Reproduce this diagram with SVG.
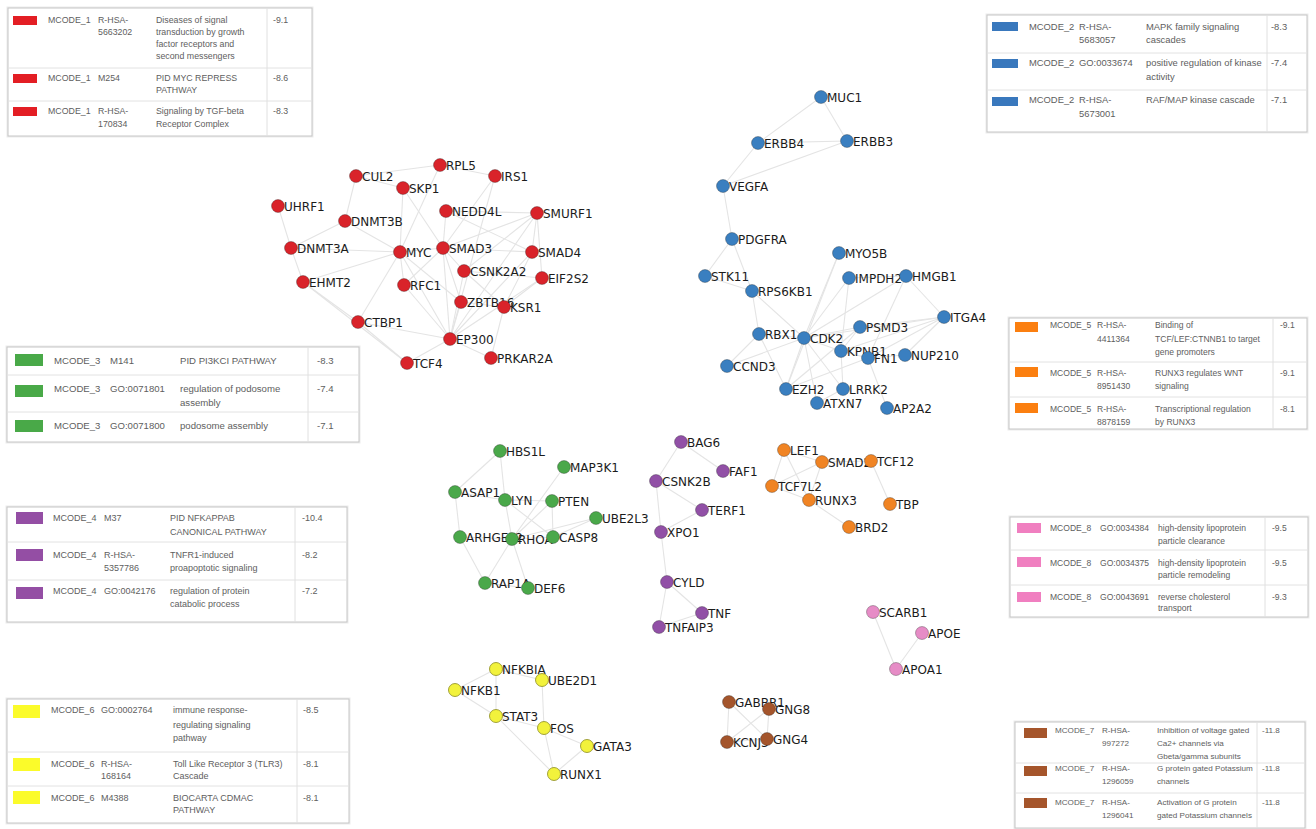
<svg xmlns="http://www.w3.org/2000/svg" width="1316" height="829" viewBox="0 0 1316 829">
<style>
.bg{fill:#ffffff}
.edges line{stroke:#e4e4e4;stroke-width:1.1}
.node circle{stroke:rgba(0,0,0,0.35);stroke-width:0.8}
.node text{font-family:"DejaVu Sans",Verdana,sans-serif;font-size:12px;fill:#1b1b1b}
.red circle{fill:#d9232a}
.blue circle{fill:#3a7fc0}
.green circle{fill:#4aa84a}
.purple circle{fill:#9150a6}
.orange circle{fill:#f08424}
.pink circle{fill:#e68cc6}
.yellow circle{fill:#f2f23c;stroke:#8c8c1e}
.brown circle{fill:#a4552c}
.tb .frame{fill:#ffffff;stroke:#c6c6c6;stroke-width:1}
.tb .shadow{fill:none;stroke:#ececec;stroke-width:3}
.tb line{stroke:#e2e2e2;stroke-width:1}
.tb .vsep{stroke:#e0e0e0}
.tb text{font-family:"Liberation Sans",Arial,sans-serif;fill:#5e5e5e}
.s-red{fill:#e31e24}.s-blue{fill:#3978bd}.s-green{fill:#49a948}.s-purple{fill:#944ea4}
.s-orange{fill:#fb7f10}.s-pink{fill:#f07fc0}.s-yellow{fill:#fbfb2a}.s-brown{fill:#a5552b}
</style>
<rect class="bg" x="0" y="0" width="1316" height="829"/>

<!-- ===== Legend tables ===== -->
<g id="table-mcode1" class="tb" font-size="8.8">
<rect class="shadow" x="8" y="8" width="304" height="128"/>
<rect class="frame" x="8" y="8" width="304" height="128"/>
<line x1="8" y1="68" x2="312" y2="68"/><line x1="8" y1="101" x2="312" y2="101"/>
<line class="vsep" x1="267" y1="8" x2="267" y2="136"/>
<rect class="s-red" x="13" y="16" width="24" height="9"/><rect class="s-red" x="13" y="74" width="24" height="9"/><rect class="s-red" x="13" y="107" width="24" height="9"/>
<text x="48" y="23">MCODE_1</text><text x="98" y="23">R-HSA-</text><text x="98" y="35">5663202</text>
<text x="156" y="23">Diseases of signal</text><text x="156" y="35">transduction by growth</text><text x="156" y="47">factor receptors and</text><text x="156" y="59">second messengers</text><text x="273" y="23">-9.1</text>
<text x="48" y="81">MCODE_1</text><text x="98" y="81">M254</text><text x="156" y="81">PID MYC REPRESS</text><text x="156" y="93">PATHWAY</text><text x="273" y="81">-8.6</text>
<text x="48" y="114">MCODE_1</text><text x="98" y="114">R-HSA-</text><text x="98" y="127">170834</text><text x="156" y="114">Signaling by TGF-beta</text><text x="156" y="127">Receptor Complex</text><text x="273" y="114">-8.3</text>
</g>

<g id="table-mcode2" class="tb" font-size="9.4">
<rect class="shadow" x="987" y="15" width="320" height="117"/>
<rect class="frame" x="987" y="15" width="320" height="117"/>
<line x1="987" y1="53" x2="1307" y2="53"/><line x1="987" y1="90" x2="1307" y2="90"/>
<line class="vsep" x1="1267" y1="15" x2="1267" y2="132"/>
<rect class="s-blue" x="992" y="22" width="26" height="9"/><rect class="s-blue" x="992" y="59" width="26" height="9"/><rect class="s-blue" x="992" y="97" width="26" height="9"/>
<text x="1029" y="30">MCODE_2</text><text x="1079" y="30">R-HSA-</text><text x="1079" y="43">5683057</text><text x="1146" y="30">MAPK family signaling</text><text x="1146" y="43">cascades</text><text x="1271" y="30">-8.3</text>
<text x="1029" y="66">MCODE_2</text><text x="1079" y="66">GO:0033674</text><text x="1146" y="66">positive regulation of kinase</text><text x="1146" y="80">activity</text><text x="1271" y="66">-7.4</text>
<text x="1029" y="103">MCODE_2</text><text x="1079" y="103">R-HSA-</text><text x="1079" y="117">5673001</text><text x="1146" y="103">RAF/MAP kinase cascade</text><text x="1271" y="103">-7.1</text>
</g>

<g id="table-mcode3" class="tb" font-size="9.6">
<rect class="shadow" x="7" y="347" width="352" height="95"/>
<rect class="frame" x="7" y="347" width="352" height="95"/>
<line x1="7" y1="375" x2="359" y2="375"/><line x1="7" y1="412" x2="359" y2="412"/>
<line class="vsep" x1="308" y1="347" x2="308" y2="442"/>
<rect class="s-green" x="15" y="354" width="28" height="12"/><rect class="s-green" x="15" y="385" width="28" height="12"/><rect class="s-green" x="15" y="420" width="28" height="12"/>
<text x="54" y="363.5">MCODE_3</text><text x="110" y="363.5">M141</text><text x="180" y="363.5">PID PI3KCI PATHWAY</text><text x="317" y="363.5">-8.3</text>
<text x="54" y="391.5">MCODE_3</text><text x="110" y="391.5">GO:0071801</text><text x="180" y="391.5">regulation of podosome</text><text x="180" y="405.5">assembly</text><text x="317" y="391.5">-7.4</text>
<text x="54" y="428.5">MCODE_3</text><text x="110" y="428.5">GO:0071800</text><text x="180" y="428.5">podosome assembly</text><text x="317" y="428.5">-7.1</text>
</g>

<g id="table-mcode4" class="tb" font-size="9">
<rect class="shadow" x="7" y="507" width="340" height="115"/>
<rect class="frame" x="7" y="507" width="340" height="115"/>
<line x1="7" y1="542" x2="347" y2="542"/><line x1="7" y1="580" x2="347" y2="580"/>
<line class="vsep" x1="295" y1="507" x2="295" y2="622"/>
<rect class="s-purple" x="16" y="512" width="27" height="12"/><rect class="s-purple" x="16" y="549" width="27" height="12"/><rect class="s-purple" x="16" y="587" width="27" height="12"/>
<text x="53" y="521">MCODE_4</text><text x="104" y="521">M37</text><text x="170" y="521">PID NFKAPPAB</text><text x="170" y="535">CANONICAL PATHWAY</text><text x="302" y="521">-10.4</text>
<text x="53" y="558">MCODE_4</text><text x="104" y="558">R-HSA-</text><text x="104" y="571">5357786</text><text x="170" y="558">TNFR1-induced</text><text x="170" y="571">proapoptotic signaling</text><text x="302" y="558">-8.2</text>
<text x="53" y="594">MCODE_4</text><text x="104" y="594">GO:0042176</text><text x="170" y="594">regulation of protein</text><text x="170" y="607">catabolic process</text><text x="302" y="594">-7.2</text>
</g>

<g id="table-mcode5" class="tb" font-size="8.55">
<rect class="shadow" x="1009" y="318" width="298" height="111"/>
<rect class="frame" x="1009" y="318" width="298" height="111"/>
<line x1="1009" y1="362" x2="1307" y2="362"/><line x1="1009" y1="397" x2="1307" y2="397"/>
<line class="vsep" x1="1273" y1="318" x2="1273" y2="429"/>
<rect class="s-orange" x="1015" y="322" width="23" height="10"/><rect class="s-orange" x="1015" y="367" width="23" height="10"/><rect class="s-orange" x="1015" y="403" width="23" height="10"/>
<text x="1050" y="328">MCODE_5</text><text x="1097" y="328">R-HSA-</text><text x="1097" y="342">4411364</text><text x="1155" y="328">Binding of</text><text x="1155" y="342">TCF/LEF:CTNNB1 to target</text><text x="1155" y="355">gene promoters</text><text x="1280" y="328">-9.1</text>
<text x="1050" y="376">MCODE_5</text><text x="1097" y="376">R-HSA-</text><text x="1097" y="389">8951430</text><text x="1155" y="376">RUNX3 regulates WNT</text><text x="1155" y="389">signaling</text><text x="1280" y="376">-9.1</text>
<text x="1050" y="412">MCODE_5</text><text x="1097" y="412">R-HSA-</text><text x="1097" y="425">8878159</text><text x="1155" y="412">Transcriptional regulation</text><text x="1155" y="425">by RUNX3</text><text x="1280" y="412">-8.1</text>
</g>

<g id="table-mcode8" class="tb" font-size="8.56">
<rect class="shadow" x="1010" y="517" width="298" height="100"/>
<rect class="frame" x="1010" y="517" width="298" height="100"/>
<line x1="1010" y1="550" x2="1308" y2="550"/><line x1="1010" y1="585" x2="1308" y2="585"/>
<line class="vsep" x1="1265" y1="517" x2="1265" y2="617"/>
<rect class="s-pink" x="1017" y="523" width="24" height="10"/><rect class="s-pink" x="1017" y="557" width="24" height="10"/><rect class="s-pink" x="1017" y="592" width="24" height="10"/>
<text x="1050" y="531">MCODE_8</text><text x="1100" y="531">GO:0034384</text><text x="1158" y="531">high-density lipoprotein</text><text x="1158" y="544">particle clearance</text><text x="1272" y="531">-9.5</text>
<text x="1050" y="566">MCODE_8</text><text x="1100" y="566">GO:0034375</text><text x="1158" y="566">high-density lipoprotein</text><text x="1158" y="578">particle remodeling</text><text x="1272" y="566">-9.5</text>
<text x="1050" y="600">MCODE_8</text><text x="1100" y="600">GO:0043691</text><text x="1158" y="600">reverse cholesterol</text><text x="1158" y="611">transport</text><text x="1272" y="600">-9.3</text>
</g>

<g id="table-mcode6" class="tb" font-size="9">
<rect class="shadow" x="7" y="699" width="342" height="124"/>
<rect class="frame" x="7" y="699" width="342" height="124"/>
<line x1="7" y1="752" x2="349" y2="752"/><line x1="7" y1="786" x2="349" y2="786"/>
<line class="vsep" x1="297" y1="699" x2="297" y2="823"/>
<rect class="s-yellow" x="13" y="705" width="27" height="13"/><rect class="s-yellow" x="13" y="758" width="27" height="13"/><rect class="s-yellow" x="13" y="791" width="27" height="13"/>
<text x="51" y="713">MCODE_6</text><text x="101" y="713">GO:0002764</text><text x="173" y="713">immune response-</text><text x="173" y="728">regulating signaling</text><text x="173" y="741">pathway</text><text x="303" y="713">-8.5</text>
<text x="51" y="767">MCODE_6</text><text x="101" y="767">R-HSA-</text><text x="101" y="779">168164</text><text x="173" y="767">Toll Like Receptor 3 (TLR3)</text><text x="173" y="779">Cascade</text><text x="303" y="767">-8.1</text>
<text x="51" y="801">MCODE_6</text><text x="101" y="801">M4388</text><text x="173" y="801">BIOCARTA CDMAC</text><text x="173" y="813">PATHWAY</text><text x="303" y="801">-8.1</text>
</g>

<g id="table-mcode7" class="tb" font-size="8.1">
<rect class="shadow" x="1015" y="722" width="290" height="106"/>
<rect class="frame" x="1015" y="722" width="290" height="106"/>
<line x1="1015" y1="763" x2="1305" y2="763"/><line x1="1015" y1="793" x2="1305" y2="793"/>
<line class="vsep" x1="1257" y1="722" x2="1257" y2="828"/>
<rect class="s-brown" x="1024" y="728" width="23" height="10"/><rect class="s-brown" x="1024" y="766" width="23" height="10"/><rect class="s-brown" x="1024" y="798" width="23" height="10"/>
<text x="1055" y="733">MCODE_7</text><text x="1102" y="733">R-HSA-</text><text x="1102" y="746">997272</text><text x="1157" y="733">Inhibition of voltage gated</text><text x="1157" y="746">Ca2+ channels via</text><text x="1157" y="759">Gbeta/gamma subunits</text><text x="1262" y="733">-11.8</text>
<text x="1055" y="771">MCODE_7</text><text x="1102" y="771">R-HSA-</text><text x="1102" y="784">1296059</text><text x="1157" y="771">G protein gated Potassium</text><text x="1157" y="784">channels</text><text x="1262" y="771">-11.8</text>
<text x="1055" y="805">MCODE_7</text><text x="1102" y="805">R-HSA-</text><text x="1102" y="818">1296041</text><text x="1157" y="805">Activation of G protein</text><text x="1157" y="818">gated Potassium channels</text><text x="1262" y="805">-11.8</text>
</g>

<!-- ===== Connectors ===== -->
<g id="connectors" class="edges">
<!-- red -->
<line x1="278" y1="206" x2="291" y2="248"/><line x1="291" y1="248" x2="345" y2="221"/><line x1="291" y1="248" x2="303" y2="282"/>
<line x1="291" y1="248" x2="400" y2="252"/><line x1="345" y1="221" x2="400" y2="252"/><line x1="345" y1="221" x2="356" y2="176"/>
<line x1="356" y1="176" x2="440" y2="165"/><line x1="356" y1="176" x2="403" y2="188"/><line x1="403" y1="188" x2="400" y2="252"/>
<line x1="403" y1="188" x2="443" y2="248"/><line x1="440" y1="165" x2="400" y2="252"/><line x1="440" y1="165" x2="495" y2="176"/>
<line x1="495" y1="176" x2="443" y2="248"/><line x1="495" y1="176" x2="450" y2="339"/><line x1="446" y1="211" x2="537" y2="213"/>
<line x1="446" y1="211" x2="443" y2="248"/><line x1="446" y1="211" x2="532" y2="252"/><line x1="537" y1="213" x2="443" y2="248"/>
<line x1="537" y1="213" x2="532" y2="252"/><line x1="537" y1="213" x2="464" y2="271"/><line x1="537" y1="213" x2="542" y2="278"/>
<line x1="537" y1="213" x2="450" y2="339"/><line x1="400" y1="252" x2="443" y2="248"/><line x1="400" y1="252" x2="303" y2="282"/>
<line x1="400" y1="252" x2="404" y2="285"/><line x1="400" y1="252" x2="450" y2="339"/><line x1="400" y1="252" x2="358" y2="322"/>
<line x1="400" y1="252" x2="461" y2="302"/><line x1="443" y1="248" x2="532" y2="252"/><line x1="443" y1="248" x2="450" y2="339"/>
<line x1="443" y1="248" x2="464" y2="271"/><line x1="443" y1="248" x2="461" y2="302"/><line x1="443" y1="248" x2="404" y2="285"/>
<line x1="532" y1="252" x2="450" y2="339"/><line x1="532" y1="252" x2="504" y2="307"/><line x1="464" y1="271" x2="542" y2="278"/>
<line x1="464" y1="271" x2="450" y2="339"/><line x1="464" y1="271" x2="504" y2="307"/><line x1="542" y1="278" x2="504" y2="307"/>
<line x1="542" y1="278" x2="450" y2="339"/><line x1="303" y1="282" x2="358" y2="322"/><line x1="303" y1="282" x2="407" y2="363"/>
<line x1="358" y1="322" x2="450" y2="339"/><line x1="358" y1="322" x2="407" y2="363"/><line x1="404" y1="285" x2="450" y2="339"/>
<line x1="461" y1="302" x2="450" y2="339"/><line x1="461" y1="302" x2="504" y2="307"/><line x1="450" y1="339" x2="407" y2="363"/>
<line x1="450" y1="339" x2="491" y2="358"/><line x1="504" y1="307" x2="491" y2="358"/>
<!-- blue -->
<line x1="821" y1="97" x2="758" y2="143"/><line x1="821" y1="97" x2="847" y2="141"/><line x1="758" y1="143" x2="847" y2="141"/>
<line x1="758" y1="143" x2="723" y2="186"/><line x1="847" y1="141" x2="723" y2="186"/><line x1="723" y1="186" x2="732" y2="239"/>
<line x1="732" y1="239" x2="705" y2="276"/><line x1="732" y1="239" x2="752" y2="291"/><line x1="705" y1="276" x2="752" y2="291"/>
<line x1="752" y1="291" x2="759" y2="334"/><line x1="752" y1="291" x2="804" y2="338"/><line x1="759" y1="334" x2="804" y2="338"/>
<line x1="759" y1="334" x2="727" y2="366"/><line x1="759" y1="334" x2="786" y2="389"/><line x1="804" y1="338" x2="727" y2="366"/>
<line x1="804" y1="338" x2="786" y2="389"/><line x1="804" y1="338" x2="843" y2="389"/><line x1="804" y1="338" x2="839" y2="253"/>
<line x1="804" y1="338" x2="849" y2="278"/><line x1="804" y1="338" x2="906" y2="276"/><line x1="804" y1="338" x2="860" y2="327"/>
<line x1="804" y1="338" x2="841" y2="351"/><line x1="804" y1="338" x2="944" y2="317"/><line x1="804" y1="338" x2="817" y2="403"/>
<line x1="849" y1="278" x2="841" y2="351"/><line x1="849" y1="278" x2="906" y2="276"/><line x1="906" y1="276" x2="944" y2="317"/>
<line x1="906" y1="276" x2="868" y2="358"/><line x1="944" y1="317" x2="868" y2="358"/><line x1="944" y1="317" x2="860" y2="327"/>
<line x1="944" y1="317" x2="841" y2="351"/><line x1="944" y1="317" x2="905" y2="355"/><line x1="841" y1="351" x2="868" y2="358"/>
<line x1="841" y1="351" x2="843" y2="389"/><line x1="841" y1="351" x2="860" y2="327"/><line x1="868" y1="358" x2="905" y2="355"/>
<line x1="868" y1="358" x2="887" y2="408"/><line x1="868" y1="358" x2="786" y2="389"/><line x1="843" y1="389" x2="817" y2="403"/>
<line x1="839" y1="253" x2="786" y2="389"/><line x1="860" y1="327" x2="786" y2="389"/>
<!-- green -->
<line x1="500" y1="451" x2="505" y2="500"/><line x1="500" y1="451" x2="455" y2="492"/><line x1="564" y1="467" x2="512" y2="539"/>
<line x1="455" y1="492" x2="460" y2="537"/><line x1="455" y1="492" x2="505" y2="500"/><line x1="505" y1="500" x2="552" y2="501"/>
<line x1="505" y1="500" x2="512" y2="539"/><line x1="505" y1="500" x2="553" y2="537"/><line x1="552" y1="501" x2="553" y2="537"/>
<line x1="552" y1="501" x2="512" y2="539"/><line x1="596" y1="518" x2="553" y2="537"/><line x1="596" y1="518" x2="512" y2="539"/>
<line x1="460" y1="537" x2="512" y2="539"/><line x1="512" y1="539" x2="553" y2="537"/><line x1="512" y1="539" x2="485" y2="583"/>
<line x1="512" y1="539" x2="528" y2="588"/><line x1="485" y1="583" x2="528" y2="588"/><line x1="460" y1="537" x2="485" y2="583"/>
<!-- purple -->
<line x1="681" y1="442" x2="656" y2="481"/><line x1="681" y1="442" x2="723" y2="471"/><line x1="656" y1="481" x2="661" y2="532"/>
<line x1="656" y1="481" x2="702" y2="510"/><line x1="702" y1="510" x2="661" y2="532"/><line x1="661" y1="532" x2="667" y2="582"/>
<line x1="667" y1="582" x2="702" y2="613"/><line x1="667" y1="582" x2="659" y2="627"/><line x1="702" y1="613" x2="659" y2="627"/>
<!-- orange -->
<line x1="784" y1="450" x2="772" y2="486"/><line x1="784" y1="450" x2="822" y2="462"/><line x1="822" y1="462" x2="772" y2="486"/>
<line x1="822" y1="462" x2="809" y2="500"/><line x1="822" y1="462" x2="871" y2="461"/><line x1="871" y1="461" x2="890" y2="504"/>
<line x1="809" y1="500" x2="849" y2="527"/><line x1="772" y1="486" x2="809" y2="500"/><line x1="784" y1="450" x2="809" y2="500"/>
<!-- pink -->
<line x1="873" y1="612" x2="896" y2="669"/><line x1="922" y1="633" x2="896" y2="669"/>
<!-- yellow -->
<line x1="496" y1="669" x2="455" y2="690"/><line x1="455" y1="690" x2="496" y2="716"/><line x1="496" y1="669" x2="496" y2="716"/>
<line x1="542" y1="680" x2="544" y2="728"/><line x1="496" y1="716" x2="544" y2="728"/><line x1="544" y1="728" x2="554" y2="774"/>
<line x1="544" y1="728" x2="587" y2="746"/><line x1="587" y1="746" x2="554" y2="774"/><line x1="496" y1="669" x2="542" y2="680"/>
<line x1="496" y1="716" x2="554" y2="774"/>
<!-- brown -->
<line x1="729" y1="702" x2="727" y2="742"/><line x1="729" y1="702" x2="767" y2="739"/><line x1="769" y1="709" x2="727" y2="742"/>
<line x1="769" y1="709" x2="767" y2="739"/><line x1="727" y1="742" x2="767" y2="739"/>
</g>

<!-- ===== Nodes ===== -->
<g id="nodes-mcode1">
<g id="n-RPL5" class="node red"><circle cx="440" cy="165" r="6.5"/><text x="446" y="169.5">RPL5</text></g>
<g id="n-CUL2" class="node red"><circle cx="356" cy="176" r="6.5"/><text x="362" y="180.5">CUL2</text></g>
<g id="n-IRS1" class="node red"><circle cx="495" cy="176" r="6.5"/><text x="501" y="180.5">IRS1</text></g>
<g id="n-SKP1" class="node red"><circle cx="403" cy="188" r="6.5"/><text x="409" y="192.5">SKP1</text></g>
<g id="n-UHRF1" class="node red"><circle cx="278" cy="206" r="6.5"/><text x="284" y="210.5">UHRF1</text></g>
<g id="n-NEDD4L" class="node red"><circle cx="446" cy="211" r="6.5"/><text x="452" y="215.5">NEDD4L</text></g>
<g id="n-SMURF1" class="node red"><circle cx="537" cy="213" r="6.5"/><text x="543" y="217.5">SMURF1</text></g>
<g id="n-DNMT3B" class="node red"><circle cx="345" cy="221" r="6.5"/><text x="351" y="225.5">DNMT3B</text></g>
<g id="n-DNMT3A" class="node red"><circle cx="291" cy="248" r="6.5"/><text x="297" y="252.5">DNMT3A</text></g>
<g id="n-MYC" class="node red"><circle cx="400" cy="252" r="6.5"/><text x="406" y="256.5">MYC</text></g>
<g id="n-SMAD3" class="node red"><circle cx="443" cy="248" r="6.5"/><text x="449" y="252.5">SMAD3</text></g>
<g id="n-SMAD4" class="node red"><circle cx="532" cy="252" r="6.5"/><text x="538" y="256.5">SMAD4</text></g>
<g id="n-CSNK2A2" class="node red"><circle cx="464" cy="271" r="6.5"/><text x="470" y="275.5">CSNK2A2</text></g>
<g id="n-EIF2S2" class="node red"><circle cx="542" cy="278" r="6.5"/><text x="548" y="282.5">EIF2S2</text></g>
<g id="n-EHMT2" class="node red"><circle cx="303" cy="282" r="6.5"/><text x="309" y="286.5">EHMT2</text></g>
<g id="n-RFC1" class="node red"><circle cx="404" cy="285" r="6.5"/><text x="410" y="289.5">RFC1</text></g>
<g id="n-ZBTB16" class="node red"><circle cx="461" cy="302" r="6.5"/><text x="467" y="306.5">ZBTB16</text></g>
<g id="n-KSR1" class="node red"><circle cx="504" cy="307" r="6.5"/><text x="510" y="311.5">KSR1</text></g>
<g id="n-CTBP1" class="node red"><circle cx="358" cy="322" r="6.5"/><text x="364" y="326.5">CTBP1</text></g>
<g id="n-EP300" class="node red"><circle cx="450" cy="339" r="6.5"/><text x="456" y="343.5">EP300</text></g>
<g id="n-PRKAR2A" class="node red"><circle cx="491" cy="358" r="6.5"/><text x="497" y="362.5">PRKAR2A</text></g>
<g id="n-TCF4" class="node red"><circle cx="407" cy="363" r="6.5"/><text x="413" y="367.5">TCF4</text></g>
</g>

<g id="nodes-mcode2">
<g id="n-MUC1" class="node blue"><circle cx="821" cy="97" r="6.5"/><text x="827" y="101.5">MUC1</text></g>
<g id="n-ERBB4" class="node blue"><circle cx="758" cy="143" r="6.5"/><text x="764" y="147.5">ERBB4</text></g>
<g id="n-ERBB3" class="node blue"><circle cx="847" cy="141" r="6.5"/><text x="853" y="145.5">ERBB3</text></g>
<g id="n-VEGFA" class="node blue"><circle cx="723" cy="186" r="6.5"/><text x="729" y="190.5">VEGFA</text></g>
<g id="n-PDGFRA" class="node blue"><circle cx="732" cy="239" r="6.5"/><text x="738" y="243.5">PDGFRA</text></g>
<g id="n-MYO5B" class="node blue"><circle cx="839" cy="253" r="6.5"/><text x="845" y="257.5">MYO5B</text></g>
<g id="n-STK11" class="node blue"><circle cx="705" cy="276" r="6.5"/><text x="711" y="280.5">STK11</text></g>
<g id="n-IMPDH2" class="node blue"><circle cx="849" cy="278" r="6.5"/><text x="855" y="282.5">IMPDH2</text></g>
<g id="n-HMGB1" class="node blue"><circle cx="906" cy="276" r="6.5"/><text x="912" y="280.5">HMGB1</text></g>
<g id="n-RPS6KB1" class="node blue"><circle cx="752" cy="291" r="6.5"/><text x="758" y="295.5">RPS6KB1</text></g>
<g id="n-ITGA4" class="node blue"><circle cx="944" cy="317" r="6.5"/><text x="950" y="321.5">ITGA4</text></g>
<g id="n-PSMD3" class="node blue"><circle cx="860" cy="327" r="6.5"/><text x="866" y="331.5">PSMD3</text></g>
<g id="n-RBX1" class="node blue"><circle cx="759" cy="334" r="6.5"/><text x="765" y="338.5">RBX1</text></g>
<g id="n-CDK2" class="node blue"><circle cx="804" cy="338" r="6.5"/><text x="810" y="342.5">CDK2</text></g>
<g id="n-KPNB1" class="node blue"><circle cx="841" cy="351" r="6.5"/><text x="847" y="355.5">KPNB1</text></g>
<g id="n-FN1" class="node blue"><circle cx="868" cy="358" r="6.5"/><text x="874" y="362.5">FN1</text></g>
<g id="n-NUP210" class="node blue"><circle cx="905" cy="355" r="6.5"/><text x="911" y="359.5">NUP210</text></g>
<g id="n-CCND3" class="node blue"><circle cx="727" cy="366" r="6.5"/><text x="733" y="370.5">CCND3</text></g>
<g id="n-EZH2" class="node blue"><circle cx="786" cy="389" r="6.5"/><text x="792" y="393.5">EZH2</text></g>
<g id="n-LRRK2" class="node blue"><circle cx="843" cy="389" r="6.5"/><text x="849" y="393.5">LRRK2</text></g>
<g id="n-ATXN7" class="node blue"><circle cx="817" cy="403" r="6.5"/><text x="823" y="407.5">ATXN7</text></g>
<g id="n-AP2A2" class="node blue"><circle cx="887" cy="408" r="6.5"/><text x="893" y="412.5">AP2A2</text></g>
</g>

<g id="nodes-mcode3">
<g id="n-HBS1L" class="node green"><circle cx="500" cy="451" r="6.5"/><text x="506" y="455.5">HBS1L</text></g>
<g id="n-MAP3K1" class="node green"><circle cx="564" cy="467" r="6.5"/><text x="570" y="471.5">MAP3K1</text></g>
<g id="n-ASAP1" class="node green"><circle cx="455" cy="492" r="6.5"/><text x="461" y="496.5">ASAP1</text></g>
<g id="n-LYN" class="node green"><circle cx="505" cy="500" r="6.5"/><text x="511" y="504.5">LYN</text></g>
<g id="n-PTEN" class="node green"><circle cx="552" cy="501" r="6.5"/><text x="558" y="505.5">PTEN</text></g>
<g id="n-UBE2L3" class="node green"><circle cx="596" cy="518" r="6.5"/><text x="602" y="522.5">UBE2L3</text></g>
<g id="n-ARHGEF2" class="node green"><circle cx="460" cy="537" r="6.5"/><text x="466" y="541.5">ARHGEF2</text></g>
<g id="n-RHOA" class="node green"><circle cx="512" cy="539" r="6.5"/><text x="518" y="543.5">RHOA</text></g>
<g id="n-CASP8" class="node green"><circle cx="553" cy="537" r="6.5"/><text x="559" y="541.5">CASP8</text></g>
<g id="n-RAP1A" class="node green"><circle cx="485" cy="583" r="6.5"/><text x="491" y="587.5">RAP1A</text></g>
<g id="n-DEF6" class="node green"><circle cx="528" cy="588" r="6.5"/><text x="534" y="592.5">DEF6</text></g>
</g>

<g id="nodes-mcode4">
<g id="n-BAG6" class="node purple"><circle cx="681" cy="442" r="6.5"/><text x="687" y="446.5">BAG6</text></g>
<g id="n-FAF1" class="node purple"><circle cx="723" cy="471" r="6.5"/><text x="729" y="475.5">FAF1</text></g>
<g id="n-CSNK2B" class="node purple"><circle cx="656" cy="481" r="6.5"/><text x="662" y="485.5">CSNK2B</text></g>
<g id="n-TERF1" class="node purple"><circle cx="702" cy="510" r="6.5"/><text x="708" y="514.5">TERF1</text></g>
<g id="n-XPO1" class="node purple"><circle cx="661" cy="532" r="6.5"/><text x="667" y="536.5">XPO1</text></g>
<g id="n-CYLD" class="node purple"><circle cx="667" cy="582" r="6.5"/><text x="673" y="586.5">CYLD</text></g>
<g id="n-TNF" class="node purple"><circle cx="702" cy="613" r="6.5"/><text x="708" y="617.5">TNF</text></g>
<g id="n-TNFAIP3" class="node purple"><circle cx="659" cy="627" r="6.5"/><text x="665" y="631.5">TNFAIP3</text></g>
</g>

<g id="nodes-mcode5">
<g id="n-LEF1" class="node orange"><circle cx="784" cy="450" r="6.5"/><text x="790" y="454.5">LEF1</text></g>
<g id="n-SMAD2" class="node orange"><circle cx="822" cy="462" r="6.5"/><text x="828" y="466.5">SMAD2</text></g>
<g id="n-TCF12" class="node orange"><circle cx="871" cy="461" r="6.5"/><text x="877" y="465.5">TCF12</text></g>
<g id="n-TCF7L2" class="node orange"><circle cx="772" cy="486" r="6.5"/><text x="778" y="490.5">TCF7L2</text></g>
<g id="n-RUNX3" class="node orange"><circle cx="809" cy="500" r="6.5"/><text x="815" y="504.5">RUNX3</text></g>
<g id="n-TBP" class="node orange"><circle cx="890" cy="504" r="6.5"/><text x="896" y="508.5">TBP</text></g>
<g id="n-BRD2" class="node orange"><circle cx="849" cy="527" r="6.5"/><text x="855" y="531.5">BRD2</text></g>
</g>

<g id="nodes-mcode8">
<g id="n-SCARB1" class="node pink"><circle cx="873" cy="612" r="6.5"/><text x="879" y="616.5">SCARB1</text></g>
<g id="n-APOE" class="node pink"><circle cx="922" cy="633" r="6.5"/><text x="928" y="637.5">APOE</text></g>
<g id="n-APOA1" class="node pink"><circle cx="896" cy="669" r="6.5"/><text x="902" y="673.5">APOA1</text></g>
</g>

<g id="nodes-mcode6">
<g id="n-NFKBIA" class="node yellow"><circle cx="496" cy="669" r="6.5"/><text x="502" y="673.5">NFKBIA</text></g>
<g id="n-UBE2D1" class="node yellow"><circle cx="542" cy="680" r="6.5"/><text x="548" y="684.5">UBE2D1</text></g>
<g id="n-NFKB1" class="node yellow"><circle cx="455" cy="690" r="6.5"/><text x="461" y="694.5">NFKB1</text></g>
<g id="n-STAT3" class="node yellow"><circle cx="496" cy="716" r="6.5"/><text x="502" y="720.5">STAT3</text></g>
<g id="n-FOS" class="node yellow"><circle cx="544" cy="728" r="6.5"/><text x="550" y="732.5">FOS</text></g>
<g id="n-GATA3" class="node yellow"><circle cx="587" cy="746" r="6.5"/><text x="593" y="750.5">GATA3</text></g>
<g id="n-RUNX1" class="node yellow"><circle cx="554" cy="774" r="6.5"/><text x="560" y="778.5">RUNX1</text></g>
</g>

<g id="nodes-mcode7">
<g id="n-GABBR1" class="node brown"><circle cx="729" cy="702" r="6.5"/><text x="735" y="706.5">GABBR1</text></g>
<g id="n-GNG8" class="node brown"><circle cx="769" cy="709" r="6.5"/><text x="775" y="713.5">GNG8</text></g>
<g id="n-KCNJ3" class="node brown"><circle cx="727" cy="742" r="6.5"/><text x="733" y="746.5">KCNJ3</text></g>
<g id="n-GNG4" class="node brown"><circle cx="767" cy="739" r="6.5"/><text x="773" y="743.5">GNG4</text></g>
</g>
</svg>
